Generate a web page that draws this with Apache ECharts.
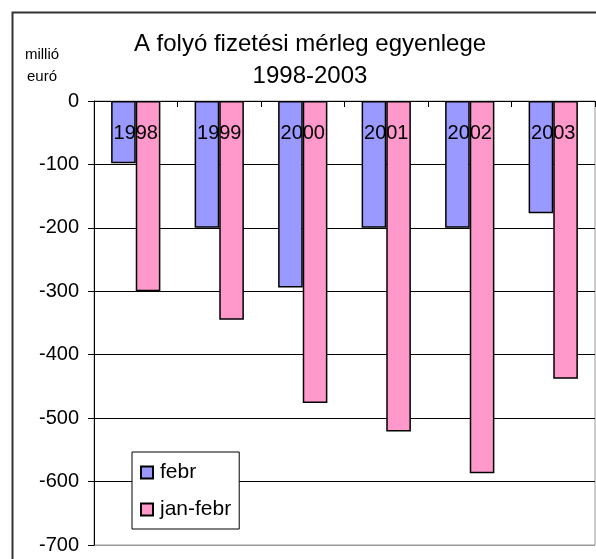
<!DOCTYPE html>
<html>
<head>
<meta charset="utf-8">
<script src="https://cdn.jsdelivr.net/npm/echarts@6/dist/echarts.min.js"></script>
<style>html,body{margin:0;padding:0;background:#fff}#c{width:596px;height:559px}</style>
</head>
<body>
<div id="c"></div>
<script>
const categories = ['1998','1999','2000','2001','2002','2003'];
const febr = [-98, -200, -294, -200, -200, -177];
const janFebr = [-300, -345, -476, -521, -587, -438];
const seriesNames = ['febr', 'jan-febr'];
const yTicks = {min: -700, max: 0, interval: 100};

const FONT = '"Liberation Sans", Arial, sans-serif';
const chart = echarts.init(document.getElementById('c'), null, {renderer: 'canvas'});
chart.setOption({
  animation: false,
  backgroundColor: '#fff',
  grid: {left: 94, top: 101, width: 501, height: 444, show: true, borderColor: '#999', borderWidth: 1, backgroundColor: 'transparent'},
  xAxis: {
    type: 'category', data: categories, position: 'top', z: 10,
    axisLine: {show: true, onZero: false, lineStyle: {color: '#000', width: 1}},
    axisTick: {show: true, inside: true, length: 6, lineStyle: {color: '#000'}},
    axisLabel: {inside: true, margin: 22, color: '#000', fontSize: 20, fontFamily: FONT},
    splitLine: {show: false}
  },
  yAxis: {
    type: 'value', min: yTicks.min, max: yTicks.max, interval: yTicks.interval,
    axisLine: {show: true, lineStyle: {color: '#000', width: 1}},
    axisTick: {show: true, length: 6, lineStyle: {color: '#000'}},
    axisLabel: {margin: 15, color: '#000', fontSize: 20, fontFamily: FONT},
    splitLine: {show: true, lineStyle: {color: ['#999','#000','#000','#000','#000','#000','#000','#000'], width: 1}}
  },
  legend: {
    orient: 'vertical', left: 132, top: 452,
    borderColor: '#000', borderWidth: 1, backgroundColor: '#fff',
    padding: [10, 8, 9, 8], itemGap: 16, itemWidth: 12, itemHeight: 12,
    icon: 'rect',
    textStyle: {color: '#000', fontSize: 21, fontFamily: FONT, padding: [0,0,0,2]},
    data: seriesNames
  },
  series: [
    {name: seriesNames[0], type: 'bar', data: febr, barGap: '0%', barCategoryGap: '41%',
     itemStyle: {color: '#9999FF', borderColor: '#000', borderWidth: 1.5}},
    {name: seriesNames[1], type: 'bar', data: janFebr, barGap: '0%', barCategoryGap: '41%',
     itemStyle: {color: '#FF99CC', borderColor: '#000', borderWidth: 1.5}}
  ],
  graphic: [
    {type: 'rect', left: 10, top: 10, shape: {x: 0, y: 0, width: 620, height: 580}, style: {fill: 'none', stroke: '#333', lineWidth: 2}, z: 100},
    {type: 'text', x: 310, y: 28, style: {text: 'A folyó fizetési mérleg egyenlege\n1998-2003', font: '24px ' + FONT, fill: '#000', textAlign: 'center', lineHeight: 32}},
    {type: 'text', x: 42, y: 47, style: {text: 'millió', font: '15px ' + FONT, fill: '#000', textAlign: 'center'}},
    {type: 'text', x: 42, y: 69, style: {text: 'euró', font: '15px ' + FONT, fill: '#000', textAlign: 'center'}}
  ]
});
</script>
</body>
</html>
